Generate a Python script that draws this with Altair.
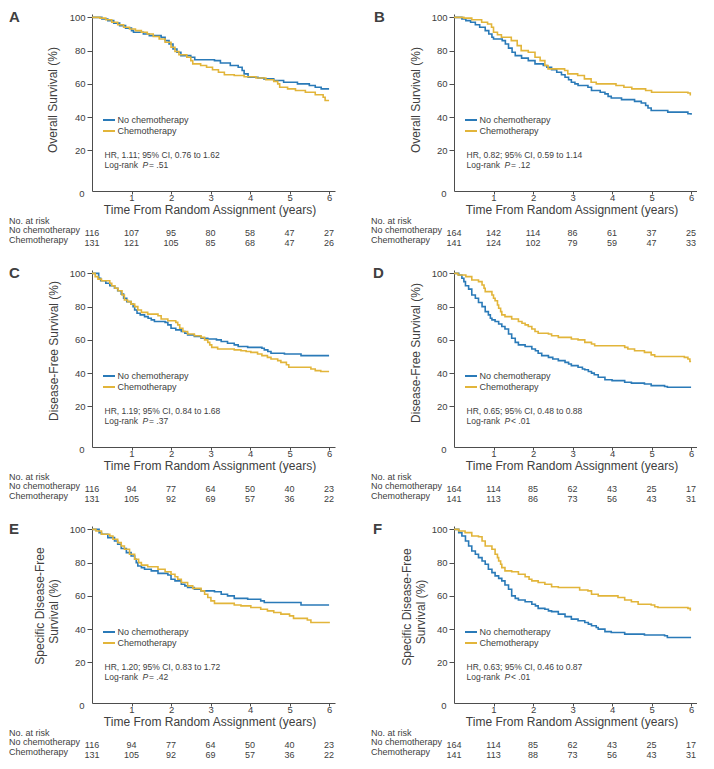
import altair as alt
import pandas as pd

FONT = "Liberation Sans"
BLUE = "#2a7ab8"
GOLD = "#e2b53a"
TXT = "#404040"
AXC = "#4d4d4d"

W, H = 243, 177
X_DOMAIN = [0, 6.15]
Y_DOMAIN = [-4.4, 102]
ARMS = ["No chemotherapy", "Chemotherapy"]
YEARS = [0, 1, 2, 3, 4, 5, 6]
X_TICKS = [1, 2, 3, 4, 5, 6]
Y_TICKS = [20, 40, 60, 80, 100]

# ---------------- Panel A : Overall survival ----------------
A_NO_T = [0, 0.15, 0.25, 0.4, 0.55, 0.7, 0.85, 1.0, 1.05, 1.3, 1.45, 1.75, 1.85, 1.95, 2.05, 2.15, 2.25, 2.5, 2.6, 3.1, 3.25, 3.5, 3.7, 3.8, 3.85, 3.95, 4.2, 4.35, 4.6, 4.85, 5.2, 5.5, 5.65, 5.8, 6.0]
A_NO_S = [100, 100, 99, 98, 96.5, 95, 93.5, 92, 91, 90, 89, 88, 86, 84, 81, 79, 77, 76, 74.5, 74, 72.5, 71, 70, 68, 66, 64, 63.5, 63, 62, 61, 60, 59, 58, 57, 57]
A_CH_T = [0, 0.2, 0.35, 0.5, 0.65, 0.8, 0.95, 1.1, 1.25, 1.4, 1.55, 1.7, 1.85, 2.0, 2.1, 2.2, 2.4, 2.5, 2.55, 2.75, 2.9, 3.05, 3.2, 3.35, 3.6, 3.85, 4.15, 4.4, 4.6, 4.7, 4.75, 4.95, 5.15, 5.4, 5.65, 5.85, 5.9, 6.0]
A_CH_S = [100, 99.5, 98.5, 97, 95.5, 94, 93, 92, 91, 90, 88.5, 87, 85, 82, 79.5, 77.5, 76, 74, 72, 71, 70, 68.5, 67, 65.5, 65, 64.3, 63.5, 62.5, 61.5, 60, 58, 57, 56, 55, 53.5, 52, 50, 50]
A_RISK_NO = [116, 107, 95, 80, 58, 47, 27]
A_RISK_CH = [131, 121, 105, 85, 68, 47, 26]

# ---------------- Panel B : Overall survival ----------------
B_NO_T = [0, 0.2, 0.3, 0.42, 0.54, 0.65, 0.79, 0.88, 0.96, 1.0, 1.22, 1.3, 1.38, 1.47, 1.55, 1.71, 1.88, 2.05, 2.26, 2.35, 2.47, 2.6, 2.72, 2.81, 2.9, 2.97, 3.06, 3.14, 3.39, 3.48, 3.7, 3.82, 3.9, 3.98, 4.24, 4.57, 4.74, 4.85, 4.91, 4.99, 5.41, 5.92, 6.0]
B_NO_S = [100, 99, 98, 97, 95.5, 94, 92, 90, 88, 87, 86, 84, 81.5, 79, 77, 75.5, 74, 72, 71, 70, 68.5, 67, 65.5, 64, 62.5, 61, 60, 59, 58, 56, 55, 54, 52.5, 51.5, 50.5, 49.5, 48.5, 47, 45.5, 44, 43, 42, 41.5]
B_CH_T = [0, 0.25, 0.45, 0.7, 0.85, 0.95, 1.0, 1.1, 1.2, 1.45, 1.6, 1.7, 1.88, 2.05, 2.18, 2.3, 2.38, 2.8, 2.88, 3.13, 3.3, 3.47, 3.6, 4.1, 4.3, 4.5, 4.85, 5.0, 5.92, 5.98, 6.0]
B_CH_S = [100, 99.5, 98.5, 97, 96, 94, 91, 89.5, 88, 86, 83, 80, 79, 76, 74, 71, 69, 68, 66, 65, 63, 61, 60, 59, 58, 57, 56, 55, 54.5, 53.5, 53.5]
B_RISK_NO = [164, 142, 114, 86, 61, 37, 25]
B_RISK_CH = [141, 124, 102, 79, 59, 47, 33]

# ---------------- Panel C : Disease-free survival ----------------
C_NO_T = [0, 0.17, 0.22, 0.35, 0.45, 0.57, 0.65, 0.74, 0.8, 0.88, 0.99, 1.04, 1.08, 1.14, 1.22, 1.33, 1.42, 1.5, 1.58, 1.85, 1.92, 2.0, 2.12, 2.26, 2.35, 2.42, 2.59, 2.76, 2.93, 3.15, 3.27, 3.43, 3.6, 3.7, 3.94, 4.3, 4.36, 4.45, 4.53, 4.87, 5.29, 6.0]
C_NO_S = [100, 97, 95.5, 94, 92.5, 91, 89.5, 87.5, 85, 83, 81.5, 80, 78, 76, 75, 74, 73, 72, 71, 70.5, 69, 67, 66, 65, 64, 63, 62, 61, 60.5, 60, 59, 58, 57, 56, 55.5, 55, 54, 53, 52, 51.5, 50.5, 50.5]
C_CH_T = [0, 0.08, 0.15, 0.24, 0.45, 0.5, 0.58, 0.66, 0.76, 0.82, 0.9, 0.99, 1.08, 1.16, 1.25, 1.41, 1.67, 1.75, 1.92, 2.12, 2.17, 2.22, 2.3, 2.42, 2.59, 2.76, 2.85, 2.93, 2.98, 3.03, 3.18, 3.6, 3.77, 3.9, 4.02, 4.19, 4.3, 4.44, 4.53, 4.7, 4.78, 4.92, 4.98, 5.54, 5.65, 5.79, 6.0]
C_CH_S = [100, 98, 96.5, 95.5, 94, 92.5, 91, 89.5, 87, 84, 83, 81.5, 80, 78, 76.5, 75.5, 74.5, 72.5, 71.5, 70.5, 69, 67, 65, 63.5, 62.5, 61.5, 60, 58.5, 57, 55.5, 54.5, 54, 53.5, 53, 52.5, 51.5, 50.5, 49.5, 48.5, 47.5, 46.5, 45, 43.5, 42.5, 41.5, 41, 41]
C_RISK_NO = [116, 94, 77, 64, 50, 40, 23]
C_RISK_CH = [131, 105, 92, 69, 57, 36, 22]

# ---------------- Panel D : Disease-free survival ----------------
D_NO_T = [0, 0.12, 0.2, 0.25, 0.29, 0.37, 0.45, 0.54, 0.62, 0.71, 0.79, 0.87, 0.92, 0.96, 1.04, 1.13, 1.21, 1.29, 1.38, 1.46, 1.55, 1.63, 1.8, 1.97, 2.06, 2.13, 2.22, 2.39, 2.5, 2.64, 2.81, 2.9, 2.97, 3.14, 3.25, 3.31, 3.4, 3.48, 3.55, 3.65, 3.82, 4.0, 4.32, 4.49, 4.82, 4.99, 5.33, 5.4, 6.0]
D_NO_S = [100, 99, 97, 95, 92.5, 90.5, 87, 85, 82.5, 80, 77, 75, 73, 72, 71, 69.5, 68, 66.5, 63.5, 61, 58.5, 57, 56, 54.5, 53.5, 52, 50.5, 49.5, 48.5, 47.5, 46.5, 45.5, 44.5, 43.5, 42.5, 42, 41, 40, 39, 37.5, 36, 35.5, 34.5, 34, 33.5, 32.5, 32, 31.5, 31.5]
D_CH_T = [0, 0.1, 0.3, 0.45, 0.62, 0.71, 0.76, 0.79, 0.96, 1.0, 1.04, 1.1, 1.13, 1.18, 1.21, 1.29, 1.46, 1.63, 1.72, 1.8, 1.88, 1.97, 2.05, 2.13, 2.39, 2.47, 2.64, 2.97, 3.14, 3.31, 3.48, 3.56, 4.32, 4.4, 4.57, 4.82, 4.99, 5.08, 5.83, 5.92, 5.97, 6.0]
D_CH_S = [100, 99, 98, 96, 95, 93, 91, 89, 87, 85, 83.5, 81, 79, 77, 75, 74, 72.5, 71, 70, 69, 68, 66.5, 65, 64, 63.5, 62.5, 61.5, 60.5, 60, 58.5, 57.5, 56.5, 55.5, 54.5, 53.5, 52.5, 51, 50, 49.5, 48.5, 47, 47]
D_RISK_NO = [164, 114, 85, 62, 43, 25, 17]
D_RISK_CH = [141, 113, 86, 73, 56, 43, 31]

# ---------------- Panel E : Specific disease-free survival ----------------
E_NO_T = [0, 0.18, 0.24, 0.4, 0.57, 0.65, 0.74, 0.87, 0.99, 1.08, 1.12, 1.16, 1.25, 1.33, 1.5, 1.67, 1.92, 2.0, 2.1, 2.26, 2.35, 2.42, 2.59, 2.76, 3.1, 3.27, 3.43, 3.6, 3.94, 4.27, 4.36, 5.29, 6.0]
E_NO_S = [100, 98, 97, 95, 93, 91, 88.5, 86, 84, 82, 80, 78, 77, 76, 75, 73.5, 72.5, 70, 69, 67, 66, 65, 64, 63, 62.5, 61, 60, 58.5, 58, 57, 56, 54.5, 54.5]
E_CH_T = [0, 0.1, 0.24, 0.45, 0.53, 0.65, 0.74, 0.82, 0.95, 1.08, 1.18, 1.25, 1.41, 1.67, 1.85, 2.0, 2.1, 2.17, 2.26, 2.42, 2.55, 2.76, 2.85, 2.93, 3.01, 3.1, 3.6, 3.77, 4.02, 4.27, 4.44, 4.6, 4.78, 5.0, 5.1, 5.45, 5.54, 6.0]
E_CH_S = [100, 99, 97, 96, 94, 92, 90, 88, 85, 82, 80, 78.5, 77.5, 76, 74.5, 73, 71.5, 70, 68, 66, 64.5, 63, 61, 59, 57, 55.5, 54.5, 54, 53, 52, 51, 50, 49, 48, 46.5, 45.5, 44, 43.5]
E_RISK_NO = [116, 94, 77, 64, 50, 40, 23]
E_RISK_CH = [131, 105, 92, 69, 57, 36, 22]

# ---------------- Panel F : Specific disease-free survival ----------------
F_NO_T = [0, 0.12, 0.2, 0.29, 0.37, 0.45, 0.54, 0.62, 0.71, 0.79, 0.87, 0.96, 1.04, 1.13, 1.21, 1.29, 1.38, 1.46, 1.55, 1.63, 1.8, 1.97, 2.06, 2.13, 2.3, 2.39, 2.47, 2.64, 2.81, 2.97, 3.14, 3.31, 3.4, 3.48, 3.6, 3.65, 3.82, 3.98, 4.32, 4.82, 5.33, 5.4, 6.0]
F_NO_S = [100, 98, 96, 93, 90, 87, 85, 83, 81, 79, 76, 74, 72, 70.5, 69, 66.5, 64, 60, 58.5, 57.5, 56.5, 55, 54, 52.5, 52, 51, 50.5, 49, 47.5, 46, 45, 44, 43, 42, 41, 40, 38.5, 38, 37, 36.5, 36, 35, 35]
F_CH_T = [0, 0.12, 0.28, 0.45, 0.62, 0.71, 0.79, 0.96, 1.04, 1.1, 1.13, 1.18, 1.21, 1.29, 1.46, 1.63, 1.8, 1.9, 1.97, 2.13, 2.3, 2.47, 2.64, 3.18, 3.39, 3.48, 3.65, 4.15, 4.32, 4.49, 4.66, 4.99, 5.08, 5.16, 5.92, 5.98, 6.0]
F_CH_S = [100, 99, 98, 96, 95.5, 93, 90, 88, 85, 83, 81, 79, 77, 75, 74.5, 73, 71.5, 70, 69, 68, 67, 65.5, 65, 63.5, 63, 61, 60, 59, 57.5, 56.5, 55, 54.5, 53.5, 53, 52.5, 51.5, 51.5]
F_RISK_NO = [164, 114, 85, 62, 43, 25, 17]
F_RISK_CH = [141, 113, 88, 73, 56, 43, 31]

HR_TEXT = {
    "A": ("HR, 1.11; 95% CI, 0.76 to 1.62", "= .51"),
    "B": ("HR, 0.82; 95% CI, 0.59 to 1.14", "= .12"),
    "C": ("HR, 1.19; 95% CI, 0.84 to 1.68", "= .37"),
    "D": ("HR, 0.65; 95% CI, 0.48 to 0.88", "< .01"),
    "E": ("HR, 1.20; 95% CI, 0.83 to 1.72", "= .42"),
    "F": ("HR, 0.63; 95% CI, 0.46 to 0.87", "< .01"),
}

PANELS = [
    dict(L="A", lx=-83, yt=[("Overall Survival (%)", -39, 86)], no=(A_NO_T, A_NO_S), ch=(A_CH_T, A_CH_S), risk=(A_RISK_NO, A_RISK_CH)),
    dict(L="B", lx=-80, yt=[("Overall Survival (%)", -38, 86)], no=(B_NO_T, B_NO_S), ch=(B_CH_T, B_CH_S), risk=(B_RISK_NO, B_RISK_CH)),
    dict(L="C", lx=-83, yt=[("Disease-Free Survival (%)", -38, 81)], no=(C_NO_T, C_NO_S), ch=(C_CH_T, C_CH_S), risk=(C_RISK_NO, C_RISK_CH)),
    dict(L="D", lx=-81, yt=[("Disease-Free Survival (%)", -38, 83)], no=(D_NO_T, D_NO_S), ch=(D_CH_T, D_CH_S), risk=(D_RISK_NO, D_RISK_CH)),
    dict(L="E", lx=-83, yt=[("Specific Disease-Free", -52, 80), ("Survival (%)", -38, 85.5)], no=(E_NO_T, E_NO_S), ch=(E_CH_T, E_CH_S), risk=(E_RISK_NO, E_RISK_CH)),
    dict(L="F", lx=-81, yt=[("Specific Disease-Free", -47, 81), ("Survival (%)", -33, 86)], no=(F_NO_T, F_NO_S), ch=(F_CH_T, F_CH_S), risk=(F_RISK_NO, F_RISK_CH)),
]

ROW_SPACING = 79
COL_SPACING = 119


def one():
    return alt.Data(values=[{"k": 0}])


def txt(text, x, y, size, align="left", baseline="alphabetic", angle=0, weight="normal", style="normal"):
    return alt.Chart(one()).mark_text(
        text=text, font=FONT, fontSize=size, align=align, baseline=baseline,
        angle=angle, fontWeight=weight, fontStyle=style, color=TXT,
    ).encode(x=alt.value(x), y=alt.value(y))


def rule(x1, x2, y1, y2, color, width):
    return alt.Chart(one()).mark_rule(color=color, strokeWidth=width).encode(
        x=alt.value(x1), x2=alt.value(x2), y=alt.value(y1), y2=alt.value(y2)
    )


def xenc():
    return alt.X(
        "t:Q",
        scale=alt.Scale(domain=X_DOMAIN, nice=False, zero=False),
        axis=alt.Axis(values=X_TICKS, title=None, tickSize=3, labelPadding=-1.5,
                      labelFlush=False, labelOverlap=False),
    )


def panel(p):
    no_t, no_s = p["no"]
    ch_t, ch_s = p["ch"]
    curves = pd.DataFrame({
        "t": list(no_t) + list(ch_t),
        "s": list(no_s) + list(ch_s),
        "arm": [ARMS[0]] * len(no_t) + [ARMS[1]] * len(ch_t),
    })
    yenc = alt.Y(
        "s:Q",
        scale=alt.Scale(domain=Y_DOMAIN, nice=False, zero=False),
        axis=alt.Axis(values=Y_TICKS, title=None, tickSize=5, labelPadding=2,
                      labelFlush=False, labelOverlap=False),
    )
    lines = alt.Chart(curves).mark_line(interpolate="step-after", strokeWidth=1.6).encode(
        x=xenc(), y=yenc,
        color=alt.Color("arm:N", scale=alt.Scale(domain=ARMS, range=[BLUE, GOLD]), legend=None),
    )
    risk_no, risk_ch = p["risk"]
    risk = pd.DataFrame({"t": YEARS, "no": risk_no, "ch": risk_ch})
    r_no = alt.Chart(risk).mark_text(font=FONT, fontSize=9, color=TXT, align="center").encode(
        x=xenc(), y=alt.value(219), text="no:Q")
    r_ch = alt.Chart(risk).mark_text(font=FONT, fontSize=9, color=TXT, align="center").encode(
        x=xenc(), y=alt.value(229), text="ch:Q")

    hr, pv = HR_TEXT[p["L"]]
    layers = [lines, r_no, r_ch,
              txt("No. at risk", -83, 209.5, 9),
              txt("No chemotherapy", -83, 219, 9),
              txt("Chemotherapy", -83, 229, 9),
              rule(11, 23, 106, 106, BLUE, 2),
              rule(11, 23, 117, 117, GOLD, 2),
              txt("No chemotherapy", 25.5, 106, 9, baseline="middle"),
              txt("Chemotherapy", 25.5, 117, 9, baseline="middle"),
              txt(hr, 12.5, 144, 8.5),
              txt("Log-rank", 12.5, 154, 8.5),
              txt("P", 50.5, 154, 8.5, style="italic"),
              txt(pv, 57, 154, 8.5),
              txt(p["L"], p["lx"], 7.5, 15, weight="bold"),
              txt("Time From Random Assignment (years)", 118, 199.5, 12, align="center"),
              txt("0", -10, 183.3, 9.5, align="center"),
              ]
    for (t, x, y) in p["yt"]:
        layers.append(txt(t, x, y, 12, align="center", baseline="middle", angle=270))
    return alt.layer(*layers).properties(width=W, height=H)


charts = [panel(p) for p in PANELS]

chart = alt.concat(
    *charts, columns=2, bounds="flush",
    spacing={"row": ROW_SPACING, "column": COL_SPACING},
).properties(
    padding={"left": 1, "top": 1, "right": 0, "bottom": 0}
).configure_view(stroke=None).configure_axis(
    grid=False, domainColor=AXC, tickColor=AXC, labelColor=TXT, labelFont=FONT,
    labelFontSize=9.5, domainWidth=1, tickWidth=1,
)

chart.save("out.html", embed_options={"renderer": "svg", "actions": False})
